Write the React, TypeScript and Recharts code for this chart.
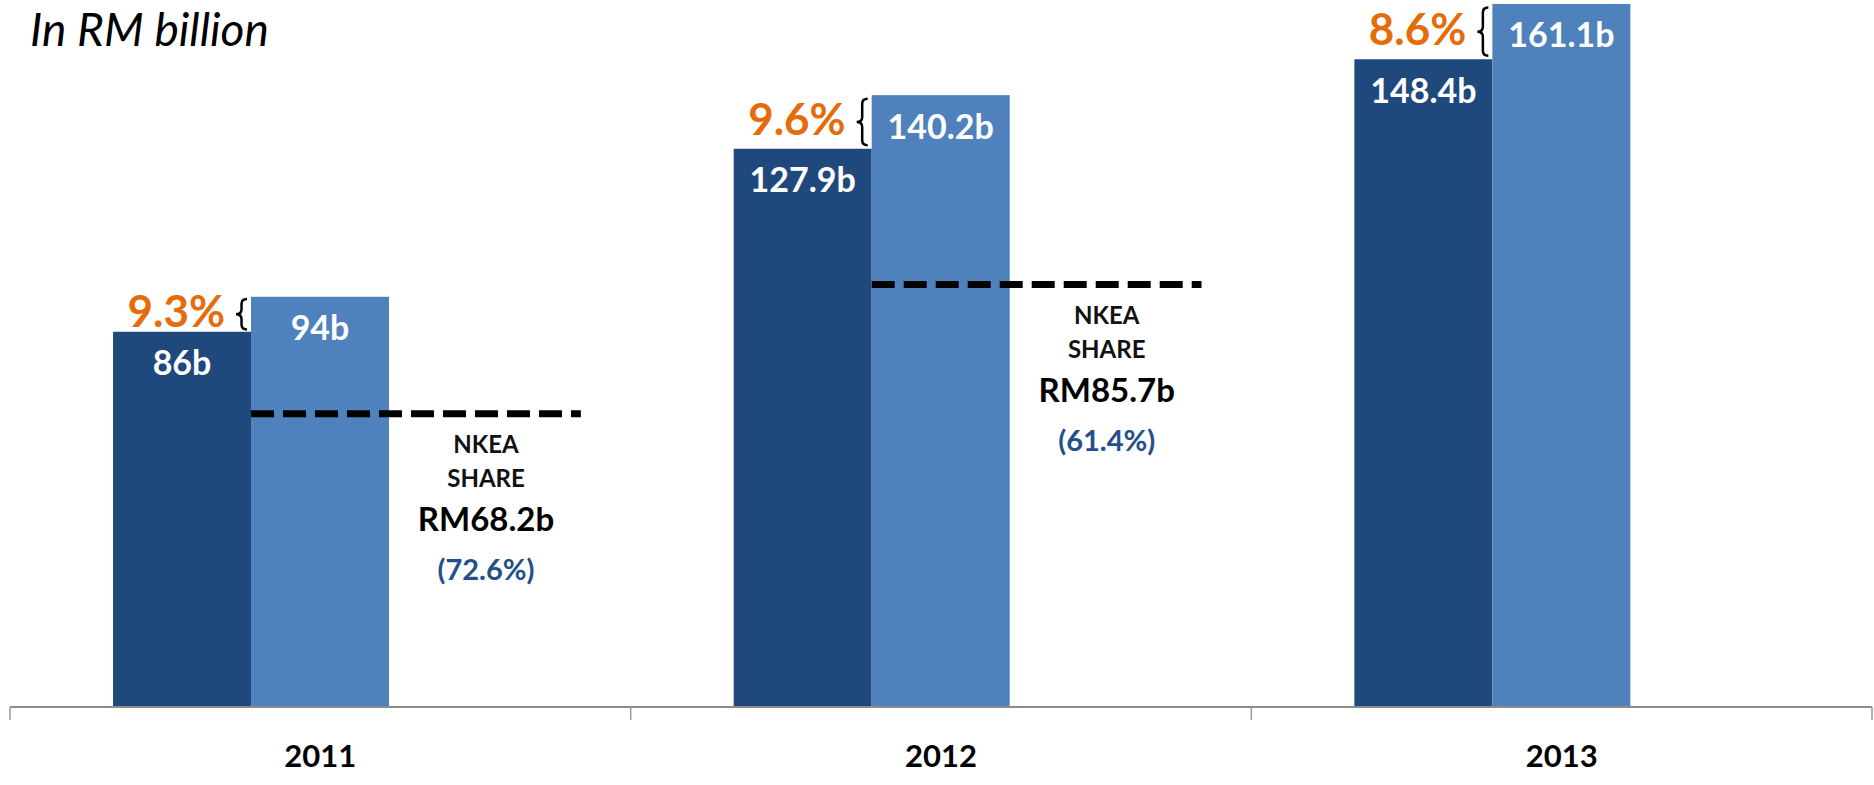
import { Bar, BarChart, LabelList, XAxis, YAxis } from 'recharts'

const years = ['2011', '2012', '2013']
const baseValues = [86, 127.9, 148.4]
const grownValues = [94, 140.2, 161.1]
const growthLabels = ['9.3%', '9.6%', '8.6%']
// where the dashed NKEA marker sits (in RM billion)
const nkeaMarker: (number | null)[] = [67.2, 96.8, null]
const nkeaShare = ['RM68.2b', 'RM85.7b', '']
const nkeaPct = ['(72.6%)', '(61.4%)', '']

const data = years.map((year, i) => ({
  year,
  i,
  base: baseValues[i],
  grown: grownValues[i],
  nkea: nkeaMarker[i],
}))

const FONT = 'Lato, "Open Sans", sans-serif'
const DARK = '#1F497D'
const LIGHT = '#4F81BD'
const ORANGE = '#E46C0A'
const CHART_W = 1874
const MARGIN = { top: 0, right: 2, left: 10, bottom: 0 }

function ValueLabel(props: any) {
  const { x, y, width, value } = props
  if (value == null) return null
  return (
    <text
      x={x + width / 2}
      y={y + 30}
      textAnchor="middle"
      dominantBaseline="central"
      fill="#fff"
      fontFamily={FONT}
      fontWeight={700}
      fontSize={34}
    >
      {`${value}b`}
    </text>
  )
}

function GrowthBar(props: any) {
  const { x, y, width, height, fill, payload } = props
  const i = payload.i
  const bottom = y + height
  const darkTop = bottom - height * (baseValues[i] / grownValues[i])
  const mid = (y + darkTop) / 2
  const bh = (darkTop - y) * 0.87
  const top = mid - bh / 2
  const bot = mid + bh / 2
  const bx = x - 4
  const w = 11
  const r = 5
  const brace = `M ${bx} ${top} Q ${bx - w / 2} ${top} ${bx - w / 2} ${top + r} L ${bx - w / 2} ${mid - r} Q ${bx - w / 2} ${mid} ${bx - w} ${mid} Q ${bx - w / 2} ${mid} ${bx - w / 2} ${mid + r} L ${bx - w / 2} ${bot - r} Q ${bx - w / 2} ${bot} ${bx} ${bot}`
  return (
    <g>
      <rect x={x} y={y} width={width} height={height} fill={fill} />
      <path d={brace} fill="none" stroke="#000" strokeWidth={2.5} />
      <text
        x={x - 26}
        y={mid - 4}
        textAnchor="end"
        dominantBaseline="central"
        fill={ORANGE}
        fontFamily={FONT}
        fontWeight={700}
        fontSize={44}
      >
        {growthLabels[i]}
      </text>
    </g>
  )
}

function NkeaMarker(props: any) {
  const { x, y, width, payload } = props
  const i = payload.i
  if (nkeaMarker[i] == null) return null
  const cx = x + width / 2 + 28
  const txt = { textAnchor: 'middle' as const, dominantBaseline: 'central' as const, fontFamily: FONT, fontWeight: 700 }
  return (
    <g>
      <line
        x1={x - width}
        x2={x + width * 1.39}
        y1={y}
        y2={y}
        stroke="#000"
        strokeWidth={7}
        strokeDasharray="23 9"
      />
      <text x={cx} y={y + 30} fontSize={24} fill="#111" {...txt}>NKEA</text>
      <text x={cx} y={y + 64} fontSize={24} fill="#111" {...txt}>SHARE</text>
      <text x={cx} y={y + 104} fontSize={33} fill="#000" {...txt}>{nkeaShare[i]}</text>
      <text x={cx} y={y + 155} fontSize={29} fill="#24508A" {...txt}>{nkeaPct[i]}</text>
    </g>
  )
}

// Excel-style axis: tick marks between categories, year label in the middle
function YearTick(props: any) {
  const { x, y, payload, index } = props
  const half =
    payload && payload.offset > 0
      ? payload.offset
      : (CHART_W - MARGIN.left - MARGIN.right) / years.length / 2
  const tick = (tx: number) => (
    <line x1={tx} x2={tx} y1={y} y2={y + 13} stroke="#999" strokeWidth={1.5} />
  )
  return (
    <g>
      {tick(x - half)}
      {index === years.length - 1 && tick(x + half)}
      <text
        x={x}
        y={y + 48}
        textAnchor="middle"
        dominantBaseline="central"
        fill="#000"
        fontFamily={FONT}
        fontWeight={700}
        fontSize={31}
      >
        {payload.value}
      </text>
    </g>
  )
}

export default function App() {
  return (
    <div style={{ position: 'absolute', left: 0, top: 0, width: CHART_W, height: 785, background: '#fff' }}>
      <BarChart
        width={CHART_W}
        height={785}
        data={data}
        margin={MARGIN}
        barCategoryGap="16.6%"
        barGap={0}
      >
        <XAxis
          dataKey="year"
          height={78}
          interval={0}
          tickSize={0}
          tickMargin={0}
          tickLine={false}
          axisLine={{ stroke: '#8c8c8c', strokeWidth: 2 }}
          tick={<YearTick />}
        />
        <YAxis hide domain={[0, 162]} allowDataOverflow />
        <Bar dataKey="base" fill={DARK} isAnimationActive={false}>
          <LabelList dataKey="base" content={<ValueLabel />} />
        </Bar>
        <Bar dataKey="grown" fill={LIGHT} shape={<GrowthBar />} isAnimationActive={false}>
          <LabelList dataKey="grown" content={<ValueLabel />} />
        </Bar>
        <Bar dataKey="nkea" fill="none" shape={<NkeaMarker />} isAnimationActive={false} />
      </BarChart>
      <svg
        width={400}
        height={70}
        style={{ position: 'absolute', left: 0, top: 0, pointerEvents: 'none' }}
      >
        <text x={30} y={46} fontFamily={FONT} fontStyle="italic" fontSize={46} fill="#000">
          In RM billion
        </text>
      </svg>
    </div>
  )
}
